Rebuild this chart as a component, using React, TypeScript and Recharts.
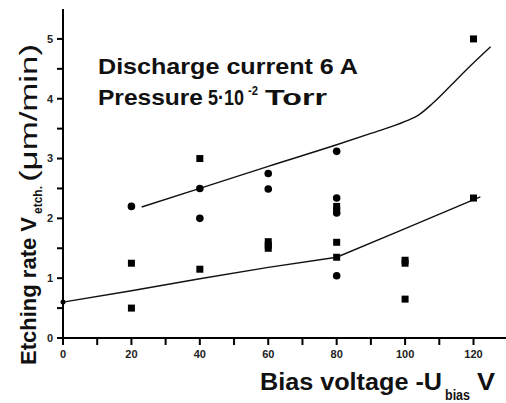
import React from 'react';
import { ComposedChart, Scatter, Line, XAxis, YAxis } from 'recharts';

// measured points: squares and circles
const squarePoints = [
  { x: 20, y: 1.25 }, { x: 20, y: 0.5 },
  { x: 40, y: 3.0 }, { x: 40, y: 1.15 },
  { x: 60, y: 1.61 }, { x: 60, y: 1.55 }, { x: 60, y: 1.5 },
  { x: 80, y: 2.2 }, { x: 80, y: 2.13 }, { x: 80, y: 1.6 }, { x: 80, y: 1.35 },
  { x: 100, y: 1.3 }, { x: 100, y: 1.25 }, { x: 100, y: 0.65 },
  { x: 120, y: 5.0 }, { x: 120, y: 2.34 },
];

const circlePoints = [
  { x: 0, y: 0.6 },
  { x: 20, y: 2.2 },
  { x: 40, y: 2.5 }, { x: 40, y: 2.0 },
  { x: 60, y: 2.75 }, { x: 60, y: 2.49 },
  { x: 80, y: 3.12 }, { x: 80, y: 2.34 }, { x: 80, y: 2.09 }, { x: 80, y: 1.04 },
];

// hand drawn trend curves
const upperCurve = [
  { x: 23, y: 2.19 }, { x: 40, y: 2.5 }, { x: 60, y: 2.87 }, { x: 80, y: 3.23 },
  { x: 90, y: 3.42 }, { x: 100, y: 3.62 }, { x: 104, y: 3.73 }, { x: 108, y: 3.92 },
  { x: 113, y: 4.2 }, { x: 118, y: 4.49 }, { x: 125, y: 4.87 },
];

const lowerCurve = [
  { x: 0, y: 0.6 }, { x: 20, y: 0.79 }, { x: 40, y: 0.99 }, { x: 60, y: 1.18 },
  { x: 80, y: 1.35 }, { x: 100, y: 1.83 }, { x: 122, y: 2.36 },
];

const xTicks = [0, 10, 20, 30, 40, 50, 60, 70, 80, 90, 100, 110, 120];
const yTicks = [0, 0.5, 1, 1.5, 2, 2.5, 3, 3.5, 4, 4.5, 5];

const FONT = '"Liberation Sans", Arial, sans-serif';

const Square = (props: any) => {
  const { cx, cy } = props;
  return <rect x={cx - 3.5} y={cy - 3.5} width={7} height={7} fill="#000" />;
};

const Dot = (props: any) => {
  const { cx, cy, payload } = props;
  const r = payload && payload.x === 0 ? 2.5 : 3.8;
  return <circle cx={cx} cy={cy} r={r} fill="#000" />;
};

const tickStyle = { fontSize: 11, fontWeight: 'bold', fill: '#222', fontFamily: FONT };
const fit = { lengthAdjust: 'spacingAndGlyphs' as const };

export default function App() {
  return (
    <div style={{ position: 'absolute', left: 0, top: 0, width: 506, height: 403, background: '#fff' }}>
      <ComposedChart width={506} height={403} margin={{ top: 9, right: 0, bottom: 0, left: 0 }}>
        <XAxis
          type="number"
          dataKey="x"
          domain={[0, 129.5]}
          ticks={xTicks}
          height={65}
          stroke="#000"
          axisLine={{ stroke: '#000', strokeWidth: 2 }}
          tickLine={{ stroke: '#000', strokeWidth: 2 }}
          tickSize={7}
          tickMargin={5}
          tick={tickStyle}
          tickFormatter={(v: number) => (v % 20 === 0 ? String(v) : '')}
          interval={0}
        />
        <YAxis
          type="number"
          dataKey="y"
          domain={[0, 5.5]}
          ticks={yTicks}
          width={63}
          stroke="#000"
          axisLine={{ stroke: '#000', strokeWidth: 2 }}
          tickLine={{ stroke: '#000', strokeWidth: 2 }}
          tickSize={6}
          tickMargin={4}
          tick={tickStyle}
          tickFormatter={(v: number) => (Number.isInteger(v) ? String(v) : '')}
          interval={0}
        />
        <Line data={upperCurve} dataKey="y" type="monotone" stroke="#111" strokeWidth={1.4} dot={false} isAnimationActive={false} />
        <Line data={lowerCurve} dataKey="y" type="linear" stroke="#111" strokeWidth={1.4} dot={false} isAnimationActive={false} />
        <Scatter data={squarePoints} dataKey="y" shape={<Square />} isAnimationActive={false} />
        <Scatter data={circlePoints} dataKey="y" shape={<Dot />} isAnimationActive={false} />
      </ComposedChart>
      <svg width={506} height={403} style={{ position: 'absolute', left: 0, top: 0, pointerEvents: 'none' }} fontFamily={FONT} fill="#111" fontWeight="bold">
        <text x={98} y={74} fontSize={22} textLength={260} {...fit}>Discharge current 6 A</text>

        <text x={98} y={105} fontSize={22} textLength={105} {...fit}>Pressure</text>
        <text x={208} y={105} fontSize={22} textLength={36} {...fit}>5·10</text>
        <text x={248} y={95} fontSize={12} textLength={10} {...fit}>-2</text>
        <text x={265} y={105} fontSize={22} textLength={62} {...fit}>Torr</text>

        <g transform="rotate(-90 36 365)">
          <text x={36} y={365} fontSize={22} textLength={148} {...fit}>Etching rate V</text>
        </g>
        <g transform="rotate(-90 42 214)">
          <text x={42} y={214} fontSize={13} textLength={28} {...fit}>etch.</text>
        </g>
        <g transform="rotate(-90 37 182)">
          <text x={37} y={182} fontSize={23} fontWeight="normal" textLength={138} {...fit}>(μm/min)</text>
        </g>

        <text x={260} y={390} fontSize={23} textLength={182} {...fit}>Bias voltage -U</text>
        <text x={445} y={400} fontSize={14} textLength={25} {...fit}>bias</text>
        <text x={477} y={390} fontSize={23} textLength={18} {...fit}>V</text>
      </svg>
    </div>
  );
}
